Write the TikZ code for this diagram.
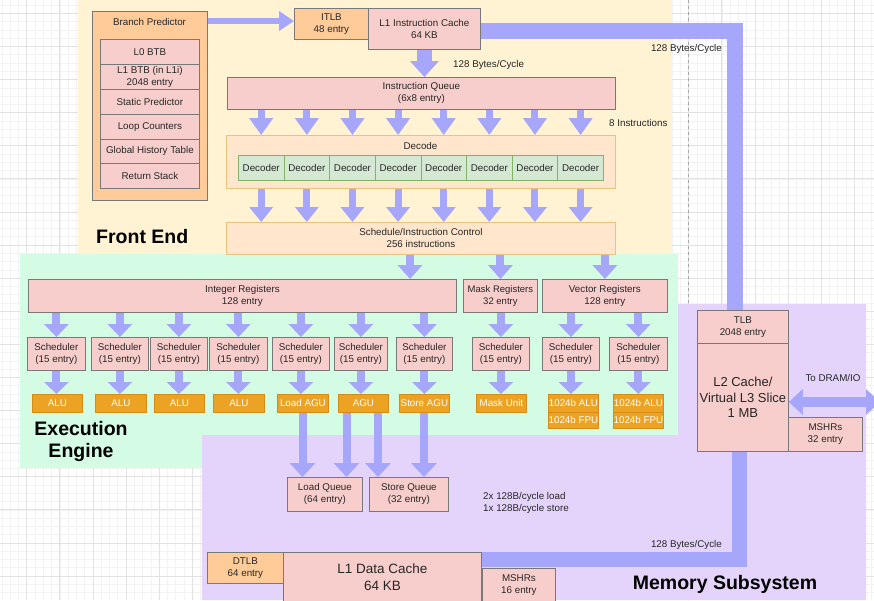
\documentclass[tikz,border=0pt]{standalone}
\usepackage{fontspec}
\setmainfont{Liberation Sans}
\usetikzlibrary{arrows.meta}
\definecolor{cream}{RGB}{255,243,212}
\definecolor{mint}{RGB}{212,251,228}
\definecolor{lav}{RGB}{228,212,252}
\definecolor{pinkf}{RGB}{248,206,204}
\definecolor{oranf}{RGB}{255,204,153}
\definecolor{peach}{RGB}{255,230,204}
\definecolor{peachd}{RGB}{236,194,122}
\definecolor{decf}{RGB}{213,232,212}
\definecolor{decd}{RGB}{130,179,102}
\definecolor{unitf}{RGB}{236,163,35}
\definecolor{unitd}{RGB}{214,140,20}
\definecolor{arr}{RGB}{166,166,250}
\definecolor{bord}{RGB}{120,120,120}
\definecolor{gmaj}{RGB}{226,226,226}
\definecolor{gmin}{RGB}{242,242,242}
\begin{document}
\begin{tikzpicture}[x=1pt,y=-1pt,
  txt/.style={font=\fontsize{9.8}{12}\selectfont, align=center, text=black!85, inner sep=0pt},
  bx/.style={txt, draw=bord, line width=0.8pt, anchor=north west},
  pk/.style={bx, fill=pinkf},
  og/.style={bx, fill=oranf},
  unit/.style={bx, fill=unitf, draw=unitd, text=white},
  dec/.style={bx, fill=decf, draw=decd},
  pch/.style={bx, fill=peach, draw=peachd},
  blk/.style={draw=arr, line width=8pt, -{Triangle[width=24pt,length=14pt]}},
  band/.style={draw=arr, line width=16pt, line join=miter},
  lbl/.style={font=\fontsize{9.8}{12}\selectfont, text=black!85, inner sep=0pt},
  regtitle/.style={font=\fontsize{19.5}{22}\selectfont\bfseries, inner sep=0pt, align=center},
]
\useasboundingbox (0,0) rectangle (874,600);
\clip (0,0) rectangle (874,600);
\fill[white] (0,0) rectangle (874,600);
% grid
\foreach \k in {0,...,105} \draw[gmin, line width=0.5pt] ({1.875+8.275*\k},0) -- ({1.875+8.275*\k},600);
\foreach \k in {0,...,72} \draw[gmin, line width=0.5pt] (0,{5.025+8.275*\k}) -- (874,{5.025+8.275*\k});
\foreach \k in {-1,...,26} \draw[gmaj, line width=0.7pt] ({26.7+33.1*\k},0) -- ({26.7+33.1*\k},600);
\foreach \k in {-1,...,18} \draw[gmaj, line width=0.7pt] (0,{13.3+33.1*\k}) -- (874,{13.3+33.1*\k});
\draw[black!35, dashed, line width=0.8pt] (688,0) -- (688,600);
% regions
\fill[cream] (78,0) rectangle (672,254);
\fill[mint] (20,254) rectangle (678,468);
\fill[lav] (202,435) -- (678,435) -- (678,304) -- (866,304) -- (866,600) -- (202,600) -- cycle;

% bands
\node[pk, minimum width=112, minimum height=41] (l1i) at (368,8) {L1 Instruction Cache\\64 KB};
\node[pk, minimum width=91, minimum height=33] (tlb) at (697,310) {TLB\\2048 entry};
\node[pk, minimum width=91, minimum height=108, font=\fontsize{13}{15.5}\selectfont] (l2) at (697,343) {L2 Cache/\\Virtual L3 Slice\\1 MB};
\node[pk, minimum width=198, minimum height=49, font=\fontsize{13.5}{17}\selectfont] (l1d) at (283,552) {L1 Data Cache\\64 KB};
\coordinate (c1) at (734.5,31);
\coordinate (c2) at (739,559.5);
\draw[band] (l1i.east |- c1) -- (c1) -- (c1 |- tlb.north);
\draw[band, line width=15pt] (c2 |- l2.south) -- (c2) -- (c2 -| l1d.east);
\node[lbl, anchor=east] (bw1) at (722,49) {128 Bytes/Cycle};
\node[lbl, anchor=east] (bw3) at (722,545) {128 Bytes/Cycle};

% front end
\node[og, minimum width=115, minimum height=189] (bp) at (92,11) {};
\node[txt] (bplbl) at (149.5,22) {Branch Predictor};
\node[pk, minimum width=99, minimum height=25] (l0btb) at (100,39) {L0 BTB};
\node[pk, minimum width=99, minimum height=25] (l1btb) at (100,64) {L1 BTB (in L1i)\\2048 entry};
\node[pk, minimum width=99, minimum height=25] (sp) at (100,89) {Static Predictor};
\node[pk, minimum width=99, minimum height=25] (lc) at (100,114) {Loop Counters};
\node[pk, minimum width=99, minimum height=24] (ght) at (100,139) {Global History Table};
\node[pk, minimum width=99, minimum height=25] (rs) at (100,163) {Return Stack};
\node[og, minimum width=74, minimum height=31] (itlb) at (294,8) {ITLB\\48 entry};
\node[pk, minimum width=388, minimum height=32] (iq) at (227,77) {Instruction Queue\\(6x8 entry)};
\node[pch, minimum width=389, minimum height=53] (decode) at (226,135) {};
\node[txt] (decodelbl) at (420.5,146) {Decode};
\foreach \i in {1,...,8}
  \node[dec, minimum width=45.625, minimum height=25] (dec\i) at ({238+45.625*(\i-1)},155) {Decoder};
\node[pch, minimum width=389, minimum height=32] (sic) at (226,222) {Schedule/Instruction Control\\256 instructions};
\node[lbl, anchor=west] (bw2) at (453,65) {128 Bytes/Cycle};
\node[lbl, anchor=west] (ninst) at (609,123) {8 Instructions};
\node[regtitle, anchor=west] (fe) at (96,237) {Front End};

\coordinate (ba) at (0,21);
\draw[blk, line width=6pt, -{Triangle[width=19pt,length=15pt]}] (bp.east |- ba) -- (itlb.west |- ba);
\draw[blk, line width=15pt, -{Triangle[width=28pt,length=16pt]}] (l1i.south) -- (l1i.south |- iq.north);
\foreach \i in {1,...,8} {
  \draw[blk, line width=7pt, -{Triangle[width=23pt,length=17pt]}] (dec\i |- iq.south) -- (dec\i |- decode.north);
  \draw[blk, line width=7pt, -{Triangle[width=23pt,length=15pt]}] (dec\i |- decode.south) -- (dec\i |- sic.north);
}

% execution engine
\node[pk, minimum width=428, minimum height=33] (ireg) at (28,279) {Integer Registers\\128 entry};
\node[pk, minimum width=74, minimum height=33, font=\fontsize{9.5}{12}\selectfont] (mreg) at (463,279) {Mask Registers\\32 entry};
\node[pk, minimum width=125, minimum height=33] (vreg) at (542,279) {Vector Registers\\128 entry};
\foreach \n/\x/\w in {1/27/58, 2/91/57, 3/150/57, 4/209/58, 5/272/57, 6/334/53, 7/396/56, 8/472/57, 9/542/57, 10/609/58}
  \node[pk, minimum width=\w, minimum height=33] (sch\n) at (\x,337) {Scheduler\\(15 entry)};
\node[unit, minimum width=50, minimum height=18] (alu1) at (32,394) {ALU};
\node[unit, minimum width=51, minimum height=18] (alu2) at (95,394) {ALU};
\node[unit, minimum width=50, minimum height=18] (alu3) at (154,394) {ALU};
\node[unit, minimum width=51, minimum height=18] (alu4) at (213,394) {ALU};
\node[unit, minimum width=51, minimum height=18] (lagu) at (277,394) {Load AGU};
\node[unit, minimum width=50, minimum height=18] (agu) at (338,394) {AGU};
\node[unit, minimum width=50, minimum height=18] (sagu) at (399,394) {Store AGU};
\node[unit, minimum width=50, minimum height=18] (mu) at (476,394) {Mask Unit};
\node[unit, minimum width=50, minimum height=18] (valu1) at (548,394) {1024b ALU};
\node[unit, minimum width=50, minimum height=16] (vfpu1) at (548,412) {1024b FPU};
\node[unit, minimum width=50, minimum height=18] (valu2) at (613,394) {1024b ALU};
\node[unit, minimum width=50, minimum height=16] (vfpu2) at (613,412) {1024b FPU};
\node[regtitle] (ee) at (81,441) {Execution\\[0pt]Engine};

\coordinate (ax1) at (410,0);
\draw[blk] (ax1 |- sic.south) -- (ax1 |- ireg.north);
\draw[blk] (mreg.north |- sic.south) -- (mreg.north);
\draw[blk] (vreg.north |- sic.south) -- (vreg.north);
\foreach \i in {1,...,7} \draw[blk, -{Triangle[width=24pt,length=13pt]}] (sch\i.north |- ireg.south) -- (sch\i.north);
\draw[blk, -{Triangle[width=24pt,length=13pt]}] (sch8.north |- mreg.south) -- (sch8.north);
\draw[blk, -{Triangle[width=24pt,length=13pt]}] (sch9.north |- vreg.south) -- (sch9.north);
\draw[blk, -{Triangle[width=24pt,length=13pt]}] (sch10.north |- vreg.south) -- (sch10.north);
\foreach \s/\u in {1/alu1, 2/alu2, 3/alu3, 4/alu4, 5/lagu, 6/agu, 7/sagu, 8/mu, 9/valu1, 10/valu2}
  \draw[blk, -{Triangle[width=24pt,length=12pt]}] (sch\s.south) -- (sch\s.south |- \u.north);

% memory subsystem
\node[pk, minimum width=75, minimum height=34] (lq) at (287,477) {Load Queue\\(64 entry)};
\node[pk, minimum width=79, minimum height=34] (sq) at (369,477) {Store Queue\\(32 entry)};
\coordinate (q1) at (302.5,0);
\coordinate (q2) at (346.5,0);
\coordinate (q3) at (378,0);
\coordinate (q4) at (424,0);
\draw[blk, -{Triangle[width=25pt,length=14pt]}] (q1 |- lagu.south) -- (q1 |- lq.north);
\draw[blk, -{Triangle[width=25pt,length=14pt]}] (q2 |- agu.south) -- (q2 |- lq.north);
\draw[blk, -{Triangle[width=25pt,length=14pt]}] (q3 |- agu.south) -- (q3 |- sq.north);
\draw[blk, -{Triangle[width=25pt,length=14pt]}] (q4 |- sagu.south) -- (q4 |- sq.north);
\node[lbl, anchor=west, align=left] (ldst) at (483,502.5) {2x 128B/cycle load\\1x 128B/cycle store};
\node[og, minimum width=76, minimum height=31] (dtlb) at (207,552) {DTLB\\64 entry};
\node[pk, minimum width=73, minimum height=34] (mshr1) at (482,568) {MSHRs\\16 entry};
\node[pk, minimum width=74, minimum height=34] (mshr2) at (788,417) {MSHRs\\32 entry};
\coordinate (dram) at (880,402);
\draw[draw=arr, line width=10pt, {Triangle[width=25pt,length=14pt]}-{Triangle[width=25pt,length=14pt]}] (l2.east |- dram) -- (dram);
\node[lbl] (todram) at (833,378) {To DRAM/IO};
\node[regtitle] (ms) at (725,584) {Memory Subsystem};
\end{tikzpicture}
\end{document}
